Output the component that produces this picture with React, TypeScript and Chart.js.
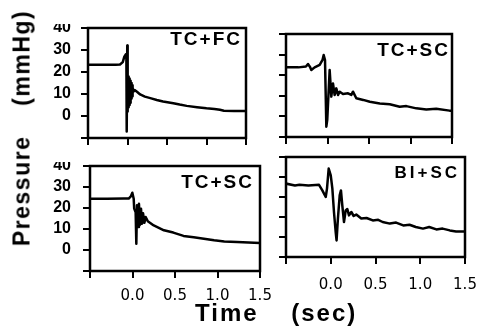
import React, { useEffect, useRef } from 'react';
import { Chart, registerables } from 'chart.js';

Chart.register(...registerables);

// ---- Data ----
const xTickValues = [-0.5, 0, 0.5, 1.0, 1.5];
const xTickLabels = ['', '0.0', '0.5', '1.0', '1.5'];
const yTickValues = [-10, 0, 10, 20, 30, 40];
const yTickLabels = ['', '0', '10', '20', '30', '40'];
const panelTitles = ['TC+FC', 'TC+SC', 'TC+SC', 'BI+SC'];
const yAxisTitle = 'Pressure (mmHg)';
const xAxisTitle = 'Time (sec)';

const tcfcTime = [-0.5, -0.3, -0.15, -0.095, -0.06, -0.04, -0.022, -0.014, -0.01, -0.003, 0.002, 0.007, 0.012, 0.017, 0.022, 0.027, 0.032, 0.037, 0.042, 0.047, 0.052, 0.057, 0.062, 0.067, 0.074, 0.09, 0.12, 0.16, 0.22, 0.3, 0.37, 0.45, 0.58, 0.66, 0.75, 0.88, 1.0, 1.1, 1.17, 1.22, 1.35, 1.5];
const tcfcPressure = [23.3, 23.3, 23.3, 23.4, 24.5, 27, 28, 26, -7, 32, 2, 18, 4, 17, 5, 17, 6, 16, 7, 15, 8, 14, 9, 13, 11, 11.8, 11, 9.8, 8.8, 8, 7.3, 6.6, 5.8, 5.2, 4.6, 4, 3.5, 3.2, 2.8, 2.4, 2.3, 2.3];

const tcsc1Time = [-0.5, -0.35, -0.26, -0.235, -0.21, -0.195, -0.155, -0.094, -0.06, -0.046, -0.03, -0.014, -0.003, 0.026, 0.046, 0.066, 0.086, 0.106, 0.127, 0.147, 0.187, 0.247, 0.287, 0.307, 0.347, 0.43, 0.51, 0.63, 0.75, 0.87, 0.95, 1.07, 1.19, 1.31, 1.47, 1.5];
const tcsc1Pressure = [23.8, 23.8, 24.2, 25.4, 24, 22.5, 23.8, 25, 27.4, 29.8, 27.4, -5, -1.7, 22.5, 9.6, 16, 10.4, 13.6, 10.4, 12, 10.9, 11.2, 10.4, 12, 8.8, 8, 7.1, 6.3, 5.9, 4.7, 5, 3.9, 3.4, 3.7, 2.8, 2.8];

const tcsc2Time = [-0.5, -0.3, -0.1, -0.045, -0.02, -0.002, 0.014, 0.02, 0.037, 0.045, 0.053, 0.065, 0.076, 0.088, 0.1, 0.112, 0.124, 0.14, 0.155, 0.18, 0.25, 0.37, 0.48, 0.6, 0.72, 0.84, 0.96, 1.08, 1.23, 1.43, 1.5];
const tcsc2Pressure = [24.4, 24.4, 24.5, 24.5, 25.5, 27.3, 24.4, 19.7, 18, 3, 21.3, 11, 22, 12, 19.7, 12.5, 17.5, 13, 15.7, 13.7, 11.7, 9.4, 8.3, 6.7, 6.1, 5.4, 4.6, 4.1, 3.8, 3.5, 3.3];

const biscTime = [-0.5, -0.4, -0.35, -0.25, -0.131, -0.094, -0.056, -0.042, -0.023, 0.0, 0.018, 0.036, 0.055, 0.065, 0.08, 0.1, 0.114, 0.129, 0.148, 0.167, 0.185, 0.204, 0.23, 0.256, 0.285, 0.341, 0.4, 0.47, 0.53, 0.58, 0.66, 0.73, 0.81, 0.88, 0.95, 1.03, 1.1, 1.18, 1.25, 1.33, 1.4, 1.5];
const biscPressure = [26.7, 25.8, 26.1, 25.8, 26.1, 23.3, 20, 24.2, 34.2, 30.8, 24.2, 12.5, 2.5, -1.7, 9.2, 20.8, 23.3, 15.8, 7.5, 13.3, 14, 10.8, 12.5, 10.5, 11.2, 9.2, 9.5, 8.3, 8.6, 7.5, 6.7, 7.2, 5.8, 6.1, 5, 4.2, 5, 3.8, 4.2, 3.3, 2.8, 2.8];

const seriesTimes = [tcfcTime, tcsc1Time, tcsc2Time, biscTime];
const seriesPressures = [tcfcPressure, tcsc1Pressure, tcsc2Pressure, biscPressure];

// ---- Layout (plot-area boxes in page pixels) ----
const PANELS = [
  { L: 88, T: 28, R: 246, B: 138, xLabels: false, yLabels: true, yPad: 10, xPad: 9, titleTop: 29, titleRightEdge: 242 },
  { L: 286, T: 34, R: 452, B: 137, xLabels: false, yLabels: false, yPad: 10, xPad: 9, titleTop: 40, titleRightEdge: 450 },
  { L: 90, T: 166, R: 260, B: 271, xLabels: true, yLabels: true, yPad: 12, xPad: 9, titleTop: 172, titleRightEdge: 254 },
  { L: 286, T: 157, R: 465, B: 257, xLabels: true, yLabels: false, yPad: 10, xPad: 12, titleTop: 164, titleRightEdge: 460 },
];

const Y_AXIS_W = 60;
const X_AXIS_H = 40;
const PAD_T = 4;
const PAD_R = 20;

const framePlugin = {
  id: 'frame',
  afterDatasetsDraw(chart: any) {
    const { ctx, chartArea: a } = chart;
    ctx.save();
    ctx.strokeStyle = '#000';
    ctx.lineWidth = 2.5;
    ctx.strokeRect(a.left, a.top, a.right - a.left, a.bottom - a.top);
    ctx.restore();
  },
};

function labelFor(values: number[], labels: string[], v: number) {
  const i = values.findIndex((t) => Math.abs(t - v) < 1e-6);
  return i >= 0 ? labels[i] : '';
}

function Panel({ idx }: { idx: number }) {
  const ref = useRef<HTMLCanvasElement>(null);
  const p = PANELS[idx];
  const w = p.R - p.L + Y_AXIS_W + PAD_R;
  const h = p.B - p.T + PAD_T + X_AXIS_H;

  useEffect(() => {
    const times = seriesTimes[idx];
    const vals = seriesPressures[idx];
    const points = times.map((t, i) => ({ x: t, y: vals[i] }));
    const chart = new Chart(ref.current as HTMLCanvasElement, {
      type: 'line',
      data: {
        datasets: [
          {
            data: points,
            borderColor: '#000',
            borderWidth: 2.5,
            pointRadius: 0,
            tension: 0,
            borderJoinStyle: 'round',
            fill: false,
          },
        ],
      },
      options: {
        animation: false,
        responsive: false,
        devicePixelRatio: 1,
        layout: { padding: { top: PAD_T, right: PAD_R, left: 0, bottom: 0 } },
        plugins: { legend: { display: false }, tooltip: { enabled: false }, title: { display: false } },
        scales: {
          x: {
            type: 'linear',
            min: -0.5,
            max: 1.5,
            afterBuildTicks: (s: any) => {
              s.ticks = xTickValues.map((v) => ({ value: v }));
            },
            afterFit: (s: any) => {
              s.height = X_AXIS_H;
              s.paddingLeft = 0;
              s.paddingRight = 0;
            },
            ticks: {
              autoSkip: false,
              maxRotation: 0,
              padding: p.xPad,
              color: '#000',
              font: { family: '"DejaVu Sans", sans-serif', size: 15 },
              callback: (v: any) => (p.xLabels ? labelFor(xTickValues, xTickLabels, Number(v)) : ''),
            },
            grid: { drawOnChartArea: false, drawTicks: true, tickLength: 7, color: '#000', lineWidth: 2 },
            border: { display: false },
          },
          y: {
            type: 'linear',
            min: -10,
            max: 40,
            afterBuildTicks: (s: any) => {
              s.ticks = yTickValues.map((v) => ({ value: v }));
            },
            afterFit: (s: any) => {
              s.width = Y_AXIS_W;
              s.paddingTop = 0;
              s.paddingBottom = 0;
            },
            ticks: {
              autoSkip: false,
              padding: p.yPad,
              color: '#000',
              font: { family: '"Liberation Sans", Arial, sans-serif', size: 16, weight: 'bold' },
              callback: (v: any) => (p.yLabels ? labelFor(yTickValues, yTickLabels, Number(v)) : ''),
            },
            grid: { drawOnChartArea: false, drawTicks: true, tickLength: 7, color: '#000', lineWidth: 2 },
            border: { display: false },
          },
        },
      },
      plugins: [framePlugin],
    } as any);
    return () => chart.destroy();
  }, [idx]);

  return (
    <canvas
      ref={ref}
      width={w}
      height={h}
      style={{ position: 'absolute', left: p.L - Y_AXIS_W, top: p.T - PAD_T, width: w, height: h }}
    />
  );
}

const titleFont = '"Liberation Sans", Arial, Helvetica, sans-serif';

export default function App() {
  return (
    <div
      style={{
        position: 'absolute',
        left: 0,
        top: 0,
        width: 482,
        height: 326,
        background: '#fff',
        overflow: 'hidden',
      }}
    >
      {PANELS.map((_, i) => (
        <Panel key={i} idx={i} />
      ))}
      {PANELS.map((p, i) => (
        <div
          key={'t' + i}
          style={{
            position: 'absolute',
            top: p.titleTop,
            right: 482 - p.titleRightEdge,
            fontFamily: titleFont,
            fontWeight: 'bold',
            fontSize: i === 3 ? 17 : 19,
            lineHeight: (i === 3 ? 17 : 19) + 'px',
            letterSpacing: i === 3 ? 3 : 2,
            whiteSpace: 'nowrap',
            color: '#000',
          }}
        >
          {panelTitles[i]}
        </div>
      ))}
      <div
        style={{
          position: 'absolute',
          left: 22,
          top: 128,
          transform: 'translate(-50%, -50%) rotate(-90deg)',
          fontFamily: titleFont,
          fontWeight: 'bold',
          fontSize: 23,
          lineHeight: '23px',
          letterSpacing: 1.5,
          wordSpacing: 22,
          whiteSpace: 'nowrap',
          color: '#000',
        }}
      >
        {yAxisTitle}
      </div>
      <div
        style={{
          position: 'absolute',
          left: 195,
          top: 301,
          fontFamily: titleFont,
          fontWeight: 'bold',
          fontSize: 24,
          lineHeight: '24px',
          letterSpacing: 2,
          wordSpacing: 24,
          whiteSpace: 'nowrap',
          color: '#000',
        }}
      >
        {xAxisTitle}
      </div>
    </div>
  );
}
